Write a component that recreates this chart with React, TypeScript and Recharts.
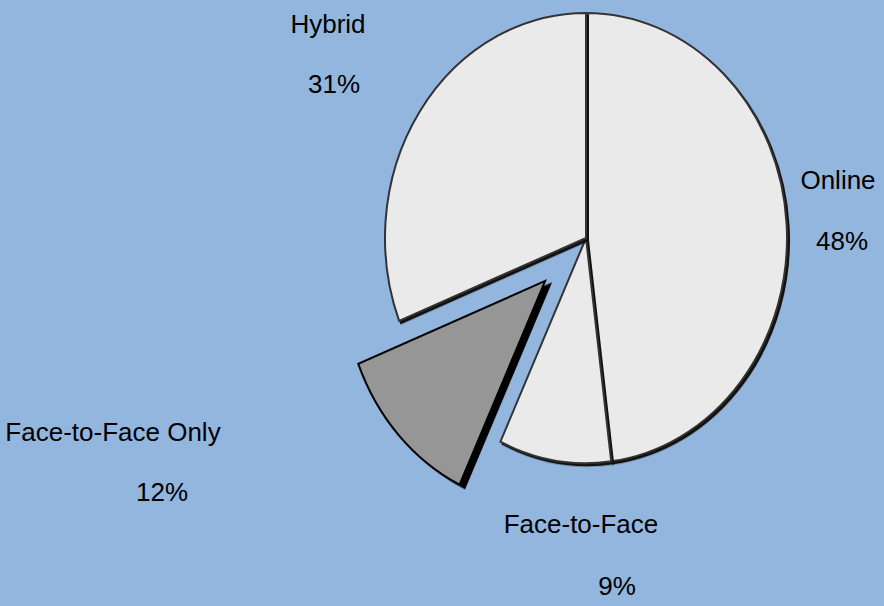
import React from 'react';
import { PieChart, Pie, Cell, Sector } from 'recharts';

const categories = ['Online', 'Face-to-Face', 'Face-to-Face Only', 'Hybrid'];
const shares = [48, 9, 12, 31];
const shareLabels = ['48%', '9%', '12%', '31%'];

const data = categories.map((name, i) => ({ name, value: shares[i], pct: shareLabels[i] }));

const BG = '#93B6DE';
const FILLS = ['#EAEAEA', '#EAEAEA', '#969696', '#EAEAEA'];
const Y_SCALE = 1.12;
const EXPLODE = 56;
const EXPLODED = 'Face-to-Face Only';

// where excel dropped each label (name line baseline, pct line baseline)
const labelLayout: Record<string, { nx: number; px: number; ny: number; py: number }> = {
  Online: { nx: 838, px: 842, ny: 189, py: 250 },
  'Face-to-Face': { nx: 581, px: 617, ny: 533, py: 595 },
  'Face-to-Face Only': { nx: 113, px: 162, ny: 441, py: 501 },
  Hybrid: { nx: 328, px: 334, ny: 33, py: 93 },
};

const RAD = Math.PI / 180;

function SliceShape(props: any) {
  const { cx, cy, midAngle, payload } = props;
  const name = payload?.name ?? props.name;
  const exploded = name === EXPLODED;
  const dx = exploded ? Math.cos(-midAngle * RAD) * EXPLODE : 0;
  const dy = exploded ? Math.sin(-midAngle * RAD) * EXPLODE * Y_SCALE : 0;
  const transform = `translate(${dx},${dy}) translate(0,${cy * (1 - Y_SCALE)}) scale(1,${Y_SCALE})`;
  return (
    <g
      transform={transform}
      style={{ filter: exploded ? 'drop-shadow(5px 3px 0 #000)' : 'drop-shadow(2px 2px 0 #111)' }}
    >
      <Sector
        {...props}
        cx={cx}
        cy={cy}
        stroke={exploded ? '#000' : '#333'}
        strokeWidth={2}
        vectorEffect="non-scaling-stroke"
      />
    </g>
  );
}

function SliceLabel(props: any) {
  const name = props.payload?.name ?? props.name;
  const pos = labelLayout[name];
  if (!pos) return null;
  const pct = props.payload?.pct ?? '';
  return (
    <g>
      <text x={pos.nx} y={pos.ny} textAnchor="middle" fill="#000" fontSize={26} fontFamily="Liberation Sans, Arial, sans-serif">
        {name}
      </text>
      <text x={pos.px} y={pos.py} textAnchor="middle" fill="#000" fontSize={26} fontFamily="Liberation Sans, Arial, sans-serif">
        {pct}
      </text>
    </g>
  );
}

export default function App() {
  return (
    <div style={{ position: 'absolute', left: 0, top: 0, width: 884, height: 606, background: BG }}>
      <PieChart width={884} height={606} margin={{ top: 0, right: 0, bottom: 0, left: 0 }}>
        <Pie
          data={data}
          dataKey="value"
          nameKey="name"
          cx={586}
          cy={238}
          outerRadius={201}
          startAngle={90}
          endAngle={-270}
          stroke="#333"
          shape={SliceShape}
          label={SliceLabel}
          labelLine={false}
          isAnimationActive={false}
        >
          {data.map((d, i) => (
            <Cell key={d.name} fill={FILLS[i]} />
          ))}
        </Pie>
      </PieChart>
    </div>
  );
}
